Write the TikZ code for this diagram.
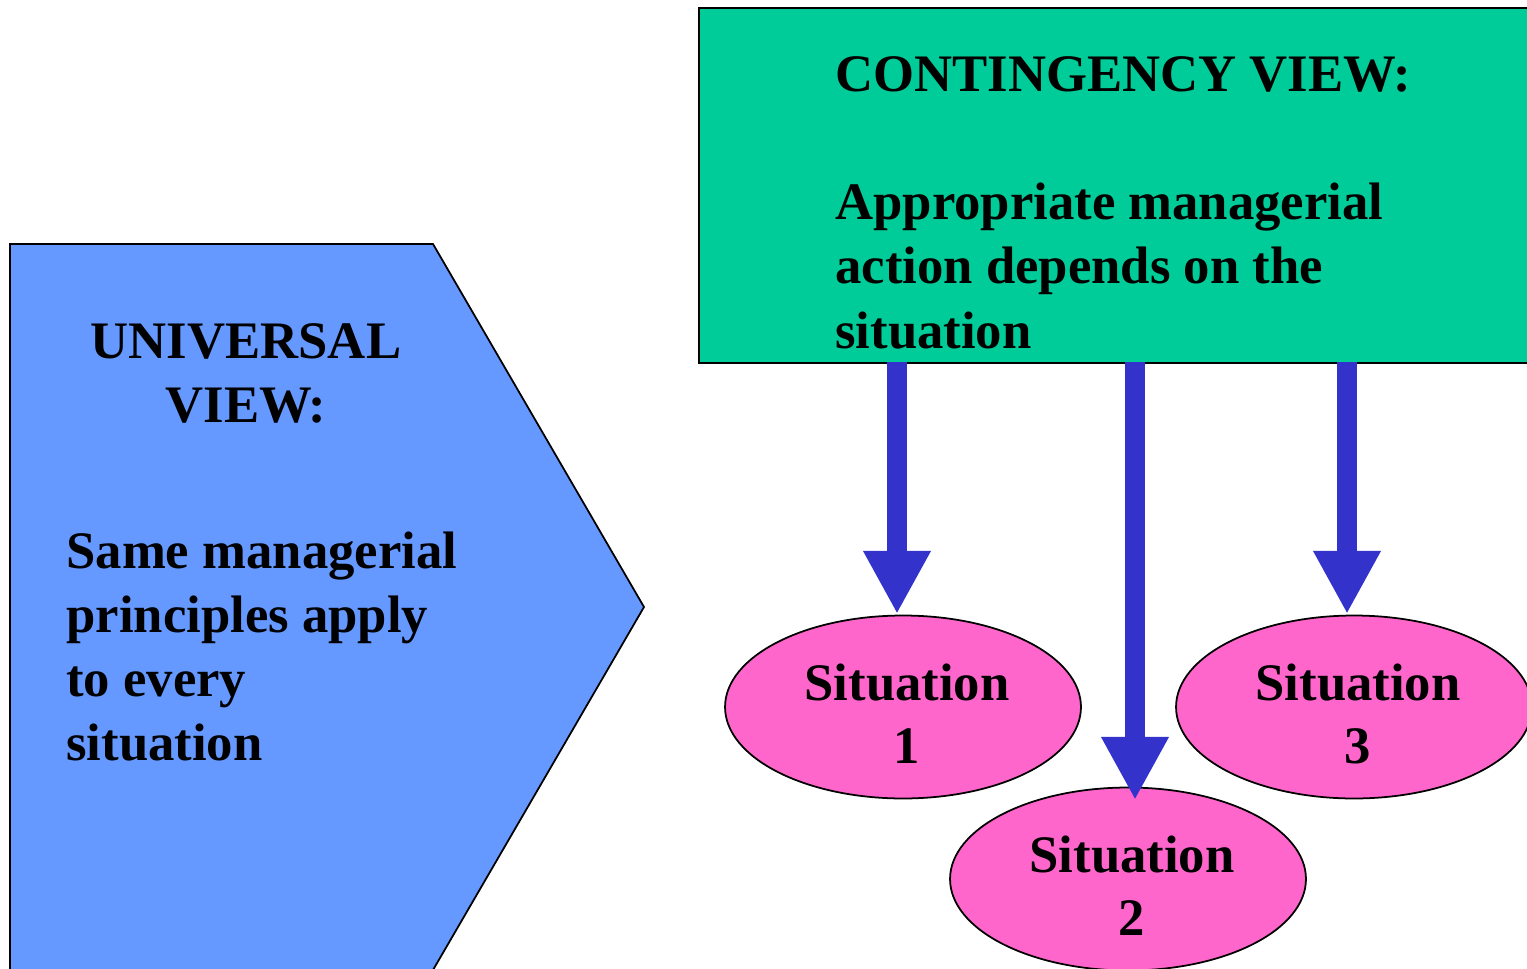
\documentclass[tikz,border=0pt]{standalone}
\usepackage{fontspec}
\setmainfont{Liberation Serif}
\usetikzlibrary{shapes.geometric,arrows.meta}
\definecolor{univblue}{HTML}{6699FF}
\definecolor{contgreen}{HTML}{00CC99}
\definecolor{sitpink}{HTML}{FF66CC}
\definecolor{arrblue}{HTML}{3333CC}
\tikzset{
  txt/.style={font=\bfseries\fontsize{30}{36.4}\selectfont, inner sep=0pt},
  sitell/.style={ellipse, draw=black, line width=1pt, fill=sitpink, minimum width=7.12cm, minimum height=3.66cm, inner sep=0pt},
  sittxt/.style={inner sep=0pt, align=center, font=\bfseries\fontsize{30}{36}\selectfont},
  blockarrow/.style={draw=arrblue, line width=11.5pt, -{Triangle[width=36pt,length=36pt]}, arrblue}
}
\begin{document}
\begin{tikzpicture}[x=0.02cm,y=-0.02cm]
\useasboundingbox (0,0) rectangle (1527,969);
\clip (0,0) rectangle (1527,969);
% universal view shape
\draw[fill=univblue, line width=1pt] (10,990) -- (10,244) -- (433,244) -- (644,607) -- (433,970) -- (433,990) -- cycle;
\node[txt, anchor=base] (u1) at (246,358) {UNIVERSAL};
\node[txt, anchor=base] (u2) at (246,422) {VIEW:};
\node[txt, anchor=base west] (u3) at (66,568) {Same managerial};
\node[txt, anchor=base west] (u4) at (66,632) {principles apply};
\node[txt, anchor=base west] (u5) at (66,696) {to every};
\node[txt, anchor=base west] (u6) at (66,760) {situation};
% contingency box
\node[draw=black, line width=1.3pt, fill=contgreen, anchor=north west, minimum width=17cm, minimum height=7.1cm, inner sep=0pt] (cbox) at (698,7) {};
\node[txt, anchor=base west] (c1) at (835,92) {CONTINGENCY VIEW:};
\node[txt, anchor=base west] (c2) at (835,220) {Appropriate managerial};
\node[txt, anchor=base west] (c3) at (835,284) {action depends on the};
\node[txt, anchor=base west] (c4) at (835,348) {situation};
% situations
\node[sitell] (s1) at (903,707) {};
\node[sitell] (s3) at (1354,707) {};
\node[sitell] (s2) at (1128,879) {};
\node[sittxt] (t1) at (907,714) {Situation\\1};
\node[sittxt] (t3) at (1358,714) {Situation\\3};
\node[sittxt] (t2) at (1132,886) {Situation\\2};
% arrows
\coordinate (a1s) at (897,362);
\coordinate (a1e) at (897,614);
\coordinate (a2s) at (1135,362);
\coordinate (a2e) at (1135,800);
\coordinate (a3s) at (1347,362);
\coordinate (a3e) at (1347,614);
\draw[blockarrow] (a1s) -- (a1e);
\draw[blockarrow] (a2s) -- (a2e);
\draw[blockarrow] (a3s) -- (a3e);
\end{tikzpicture}
\end{document}
